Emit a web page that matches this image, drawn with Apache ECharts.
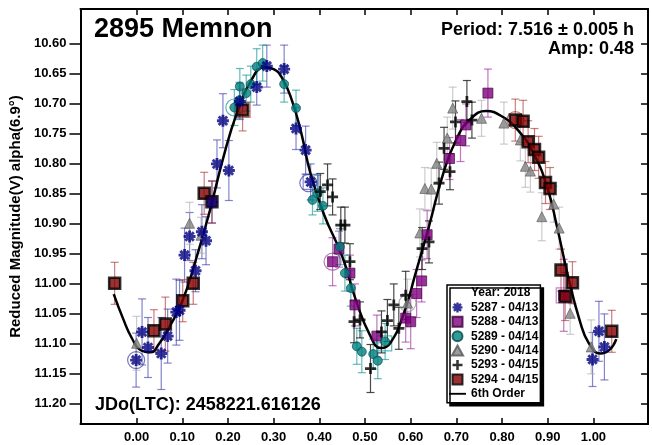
<!DOCTYPE html>
<html><head><meta charset="utf-8">
<script src="https://cdn.jsdelivr.net/npm/echarts@6/dist/echarts.min.js"></script>
<style>html,body{margin:0;padding:0;background:#fff}#c{width:652px;height:445px}</style>
</head><body><div id="c"></div>
<script>
// ---- tick labels ----
const xTicks = [0.00, 0.10, 0.20, 0.30, 0.40, 0.50, 0.60, 0.70, 0.80, 0.90, 1.00];
const yTicks = [10.60, 10.65, 10.70, 10.75, 10.80, 10.85, 10.90, 10.95, 11.00, 11.05, 11.10, 11.15, 11.20];

// ---- series: [phase, reduced mag, error] ----
const s5287 = [
  [-0.001, 11.128, 0.045], [0.012, 11.081, 0.055], [0.025, 11.107, 0.05], [0.054, 11.117, 0.06],
  [0.068, 11.088, 0.045], [0.087, 11.048, 0.055], [0.094, 11.045, 0.05], [0.105, 10.953, 0.045],
  [0.116, 10.922, 0.04], [0.129, 10.979, 0.035], [0.143, 10.914, 0.045], [0.152, 10.929, 0.04],
  [0.165, 10.865, 0.035], [0.176, 10.801, 0.04], [0.189, 10.729, 0.045], [0.202, 10.812, 0.05],
  [0.226, 10.697, 0.03], [0.263, 10.673, 0.03], [0.285, 10.638, 0.035], [0.323, 10.643, 0.04],
  [0.349, 10.742, 0.035], [0.370, 10.778, 0.04], [0.381, 10.831, 0.03],
  [0.998, 11.127, 0.045], [1.012, 11.080, 0.05], [1.024, 11.106, 0.055]
];
const s5288 = [
  [0.429, 10.964, 0.04], [0.443, 10.943, 0.03], [0.467, 10.983, 0.03], [0.478, 11.036, 0.035],
  [0.526, 11.088, 0.035], [0.589, 11.058, 0.04], [0.600, 11.064, 0.045], [0.613, 11.017, 0.04],
  [0.624, 10.996, 0.035], [0.636, 10.919, 0.04], [0.685, 10.792, 0.035], [0.709, 10.762, 0.035],
  [0.721, 10.736, 0.035], [0.769, 10.683, 0.04], [0.935, 11.020, 0.06]
];
const s5289 = [
  [0.214, 10.707, 0.03], [0.225, 10.695, 0.03], [0.226, 10.672, 0.03], [0.240, 10.683, 0.03],
  [0.250, 10.668, 0.03], [0.263, 10.639, 0.03], [0.276, 10.633, 0.03], [0.323, 10.668, 0.03],
  [0.349, 10.708, 0.03], [0.385, 10.861, 0.025], [0.396, 10.850, 0.03], [0.408, 10.871, 0.03],
  [0.445, 10.939, 0.03], [0.456, 10.983, 0.03], [0.469, 11.008, 0.03], [0.482, 11.105, 0.03],
  [0.493, 11.114, 0.035], [0.518, 11.118, 0.025], [0.528, 11.129, 0.03], [0.544, 11.097, 0.03]
];
const s5290 = [
  [0.000, 11.100, 0.045], [0.116, 10.900, 0.035], [0.141, 10.920, 0.03], [0.593, 11.033, 0.04],
  [0.620, 10.916, 0.04], [0.631, 10.842, 0.035], [0.645, 10.843, 0.035], [0.657, 10.800, 0.035],
  [0.680, 10.758, 0.035], [0.692, 10.708, 0.035], [0.755, 10.725, 0.03], [0.804, 10.733, 0.035],
  [0.840, 10.761, 0.035], [0.851, 10.805, 0.035], [0.862, 10.813, 0.035], [0.887, 10.889, 0.04],
  [0.913, 10.868, 0.03], [0.925, 10.908, 0.035], [0.949, 11.050, 0.035], [0.995, 11.106, 0.045]
];
const s5293 = [
  [0.402, 10.847, 0.03], [0.418, 10.836, 0.035], [0.429, 10.856, 0.03], [0.447, 10.903, 0.03],
  [0.456, 10.903, 0.03], [0.467, 10.964, 0.03], [0.476, 11.064, 0.035], [0.489, 11.061, 0.03],
  [0.512, 11.142, 0.04], [0.536, 11.081, 0.035], [0.549, 11.062, 0.035], [0.563, 11.036, 0.035],
  [0.574, 11.075, 0.035], [0.589, 11.020, 0.04], [0.625, 10.942, 0.035], [0.640, 10.931, 0.035],
  [0.662, 10.833, 0.035], [0.673, 10.775, 0.035], [0.686, 10.814, 0.03], [0.698, 10.731, 0.035],
  [0.723, 10.697, 0.035], [0.734, 10.728, 0.03]
];
const s5294 = [
  [-0.048, 11.000, 0.035], [0.038, 11.079, 0.035], [0.063, 11.068, 0.045], [0.101, 11.029, 0.035],
  [0.124, 11.000, 0.035], [0.148, 10.850, 0.035], [0.165, 10.864, 0.035], [0.232, 10.711, 0.035],
  [0.829, 10.728, 0.035], [0.846, 10.730, 0.035], [0.857, 10.764, 0.035], [0.871, 10.777, 0.035],
  [0.880, 10.790, 0.035], [0.895, 10.832, 0.035], [0.905, 10.842, 0.035], [0.929, 10.978, 0.035],
  [0.938, 11.022, 0.04], [0.954, 10.999, 0.035], [1.040, 11.080, 0.035]
];
// 6th order fit
const fit6 = [
  [-0.05, 11.018], [-0.03, 11.058], [-0.01, 11.092], [0.01, 11.112], [0.03, 11.115], [0.05, 11.100],
  [0.07, 11.075], [0.10, 11.030], [0.13, 10.960], [0.16, 10.880], [0.19, 10.790], [0.22, 10.715],
  [0.25, 10.663], [0.28, 10.640], [0.30, 10.643], [0.32, 10.660], [0.34, 10.695], [0.36, 10.748],
  [0.38, 10.815], [0.41, 10.885], [0.45, 10.955], [0.48, 11.028], [0.51, 11.085], [0.535, 11.108],
  [0.555, 11.100], [0.585, 11.050], [0.61, 10.985], [0.64, 10.905], [0.67, 10.820], [0.70, 10.760],
  [0.73, 10.727], [0.765, 10.713], [0.80, 10.722], [0.835, 10.745], [0.87, 10.785], [0.90, 10.843],
  [0.92, 10.905], [0.945, 10.990], [0.97, 11.062], [0.99, 11.100], [1.015, 11.117], [1.035, 11.111],
  [1.05, 11.093]
];
// first-point markers (halos)
const haloCircle5287 = [[-0.001, 11.128], [0.376, 10.833]];
const haloCircle5288 = [[0.429, 10.964]];
const haloCircle5289 = [[0.214, 10.707]];
const haloCircle5290 = [[0.593, 11.033]];
const haloCircle5294 = [[0.829, 10.728]];
const haloSquare5287 = [[0.381, 10.831]];
const haloSquare5288 = [[0.935, 11.020]];
const haloSquare5289 = [[0.542, 11.100]];
const haloSquare5294 = [[0.232, 10.711]];

const FONT = '"Liberation Sans", Arial, sans-serif';

// asterisk marker: four thick bars through the centre
function asteriskPath(halfLen, halfW) {
  let d = '';
  [0, 45, 90, 135].forEach(function (deg) {
    const t = deg * Math.PI / 180, ux = Math.cos(t), uy = Math.sin(t), vx = -uy, vy = ux;
    const pts = [[halfLen, halfW], [halfLen, -halfW], [-halfLen, -halfW], [-halfLen, halfW]].map(function (p) {
      return [(10 + p[0] * ux + p[1] * vx).toFixed(2), (10 + p[0] * uy + p[1] * vy).toFixed(2)];
    });
    d += 'M' + pts[0].join(',') + 'L' + pts[1].join(',') + 'L' + pts[2].join(',') + 'L' + pts[3].join(',') + 'Z';
  });
  return 'path://' + d;
}
const STAR = asteriskPath(10, 2.4);
const CROSS = 'path://M7.5,0H12.5V7.5H20V12.5H12.5V20H7.5V12.5H0V7.5H7.5Z';
const SQUARE = 'path://M0,0H10V10H0Z';
const TRI = 'path://M5,0L10,9H0Z';
const LINEICON = 'path://M0,9H20V11.2H0Z';

function errSeries(data, color) {
  return {
    type: 'custom', data: data, z: 1, silent: true,
    encode: { x: 0, y: 1 },
    renderItem: function (params, api) {
      const x = api.value(0), y = api.value(1), e = api.value(2);
      const a = api.coord([x, y - e]), b = api.coord([x, y + e]);
      const cw = 4, st = { stroke: color, lineWidth: 1.2 };
      return { type: 'group', children: [
        { type: 'line', shape: { x1: a[0], y1: a[1], x2: b[0], y2: b[1] }, style: st },
        { type: 'line', shape: { x1: a[0] - cw, y1: a[1], x2: a[0] + cw, y2: a[1] }, style: st },
        { type: 'line', shape: { x1: b[0] - cw, y1: b[1], x2: b[0] + cw, y2: b[1] }, style: st }
      ]};
    }
  };
}
function haloSeries(data, symbol, size, color) {
  return { type: 'scatter', data: data, symbol: symbol, symbolSize: size, z: 2, silent: true,
    itemStyle: { color: 'rgba(0,0,0,0)', borderColor: color, borderWidth: 1.2 } };
}

const chart = echarts.init(document.getElementById('c'), null, { renderer: 'canvas' });
const axLine = { show: true, onZero: false, lineStyle: { color: '#000', width: 2 } };
const xMin = -0.1229, xMax = 1.1194, yMin = 10.5428, yMax = 11.2345;

chart.setOption({
  animation: false,
  backgroundColor: '#fff',
  textStyle: { fontFamily: FONT },
  title: [
    { text: '2895 Memnon', left: 94, top: 16, padding: 0,
      textStyle: { fontFamily: FONT, fontSize: 27, fontWeight: 'bold', color: '#000', lineHeight: 27 } },
    { text: 'Period: 7.516 \u00b1 0.005 h', right: 18, top: 21, padding: 0,
      textStyle: { fontFamily: FONT, fontSize: 18, fontWeight: 'bold', color: '#000', lineHeight: 18 } },
    { text: 'Amp: 0.48', right: 18, top: 40, padding: 0,
      textStyle: { fontFamily: FONT, fontSize: 18, fontWeight: 'bold', color: '#000', lineHeight: 18 } },
    { text: 'JDo(LTC): 2458221.616126', left: 95, top: 396, padding: 0,
      textStyle: { fontFamily: FONT, fontSize: 18, fontWeight: 'bold', color: '#000', lineHeight: 18 } }
  ],
  grid: { left: 79, right: 4, top: 9, bottom: 21, containLabel: false },
  xAxis: [
    { type: 'value', position: 'bottom', min: xMin, max: xMax, axisLine: axLine,
      splitLine: { show: false },
      axisTick: { show: true, inside: true, length: 6, customValues: xTicks, lineStyle: { color: '#000', width: 1.5 } },
      axisLabel: { show: true, customValues: xTicks, margin: 7, fontFamily: FONT, fontSize: 13, fontWeight: 'bold', color: '#000',
        formatter: v => v.toFixed(2) } },
    { type: 'value', position: 'top', min: xMin, max: xMax, axisLine: axLine,
      splitLine: { show: false },
      axisTick: { show: true, inside: true, length: 6, customValues: xTicks, lineStyle: { color: '#000', width: 1.5 } },
      axisLabel: { show: false } }
  ],
  yAxis: [
    { type: 'value', position: 'left', inverse: true, min: yMin, max: yMax, axisLine: axLine,
      splitLine: { show: false },
      name: 'Reduced Magnitude(V) alpha(6.9\u00b0)', nameLocation: 'middle', nameGap: 53,
      nameTextStyle: { fontFamily: FONT, fontSize: 15, fontWeight: 'bold', color: '#000' },
      axisTick: { show: true, inside: false, length: 11, customValues: yTicks, lineStyle: { color: '#000', width: 1.5 } },
      axisLabel: { show: true, customValues: yTicks, margin: 14, fontFamily: FONT, fontSize: 13, fontWeight: 'bold', color: '#000',
        formatter: v => v.toFixed(2) } },
    { type: 'value', position: 'right', inverse: true, min: yMin, max: yMax, axisLine: axLine,
      splitLine: { show: false },
      axisTick: { show: true, inside: true, length: 7, customValues: yTicks, lineStyle: { color: '#000', width: 1.5 } },
      axisLabel: { show: false } }
  ],
  legend: {
    orient: 'vertical', left: 447, top: 285, padding: [2, 2, 3, 2], itemGap: 2.4,
    itemWidth: 17, itemHeight: 10, selectedMode: false, symbolKeepAspect: true,
    backgroundColor: '#fff', borderColor: '#000', borderWidth: 1.5,
    shadowColor: '#000', shadowOffsetX: 3, shadowOffsetY: 3, shadowBlur: 0,
    textStyle: { fontFamily: FONT, fontSize: 12, fontWeight: 'bold', color: '#000' },
    data: [
      { name: 'Year: 2018', icon: 'none' },
      { name: '5287 - 04/13', icon: STAR },
      { name: '5288 - 04/13', icon: SQUARE },
      { name: '5289 - 04/14', icon: 'circle' },
      { name: '5290 - 04/14', icon: TRI },
      { name: '5293 - 04/15', icon: CROSS },
      { name: '5294 - 04/15', icon: SQUARE },
      { name: '6th Order', icon: LINEICON }
    ]
  },
  series: [
    errSeries(s5287, 'rgba(50,50,170,0.6)'),
    errSeries(s5288, 'rgba(150,30,150,0.6)'),
    errSeries(s5289, 'rgba(0,140,140,0.6)'),
    errSeries(s5290, 'rgba(170,170,170,0.6)'),
    errSeries(s5293, 'rgba(30,30,30,0.8)'),
    errSeries(s5294, 'rgba(170,40,40,0.6)'),
    haloSeries(haloCircle5287, 'circle', 17, 'rgba(40,40,140,0.8)'),
    haloSeries(haloCircle5288, 'circle', 17, 'rgba(150,40,150,0.8)'),
    haloSeries(haloCircle5289, 'circle', 17, 'rgba(0,140,140,0.8)'),
    haloSeries(haloCircle5290, 'circle', 17, 'rgba(130,130,130,0.8)'),
    haloSeries(haloCircle5294, 'circle', 17, 'rgba(170,40,40,0.8)'),
    haloSeries(haloSquare5287, 'rect', 15, 'rgba(60,60,180,0.8)'),
    haloSeries(haloSquare5288, 'rect', 15, 'rgba(170,60,170,0.8)'),
    haloSeries(haloSquare5289, 'rect', 15, 'rgba(0,150,150,0.8)'),
    haloSeries(haloSquare5294, 'rect', 15, 'rgba(170,40,40,0.8)'),
    { type: 'scatter', name: 'Year: 2018', data: [] },
    { type: 'line', name: '6th Order', data: fit6, smooth: 0.5, showSymbol: false, symbol: 'none', z: 3, silent: true,
      lineStyle: { color: '#000', width: 2.5 }, itemStyle: { color: '#000' } },
    { type: 'scatter', name: '5290 - 04/14', data: s5290, symbol: 'triangle', symbolSize: 10, z: 4,
      itemStyle: { color: '#858585', borderColor: '#555', borderWidth: 0.8 } },
    { type: 'scatter', name: '5288 - 04/13', data: s5288, symbol: 'rect', symbolSize: 10, z: 4,
      itemStyle: { color: '#800080', borderColor: '#3a003a', borderWidth: 0.8 } },
    { type: 'scatter', name: '5289 - 04/14', data: s5289, symbol: 'circle', symbolSize: 9, z: 4,
      itemStyle: { color: '#008080', borderColor: '#004a4a', borderWidth: 0.8 } },
    { type: 'scatter', name: '5293 - 04/15', data: s5293, symbol: CROSS, symbolSize: 11, z: 4,
      itemStyle: { color: '#000' } },
    { type: 'scatter', name: '5294 - 04/15', data: s5294, symbol: 'rect', symbolSize: 11, z: 4,
      itemStyle: { color: '#800000', borderColor: '#000', borderWidth: 2.5 } },
    { type: 'scatter', name: '5287 - 04/13', data: s5287, symbol: STAR, symbolSize: 12, z: 4,
      itemStyle: { color: '#000080' } }
  ]
});
</script>
</body></html>
